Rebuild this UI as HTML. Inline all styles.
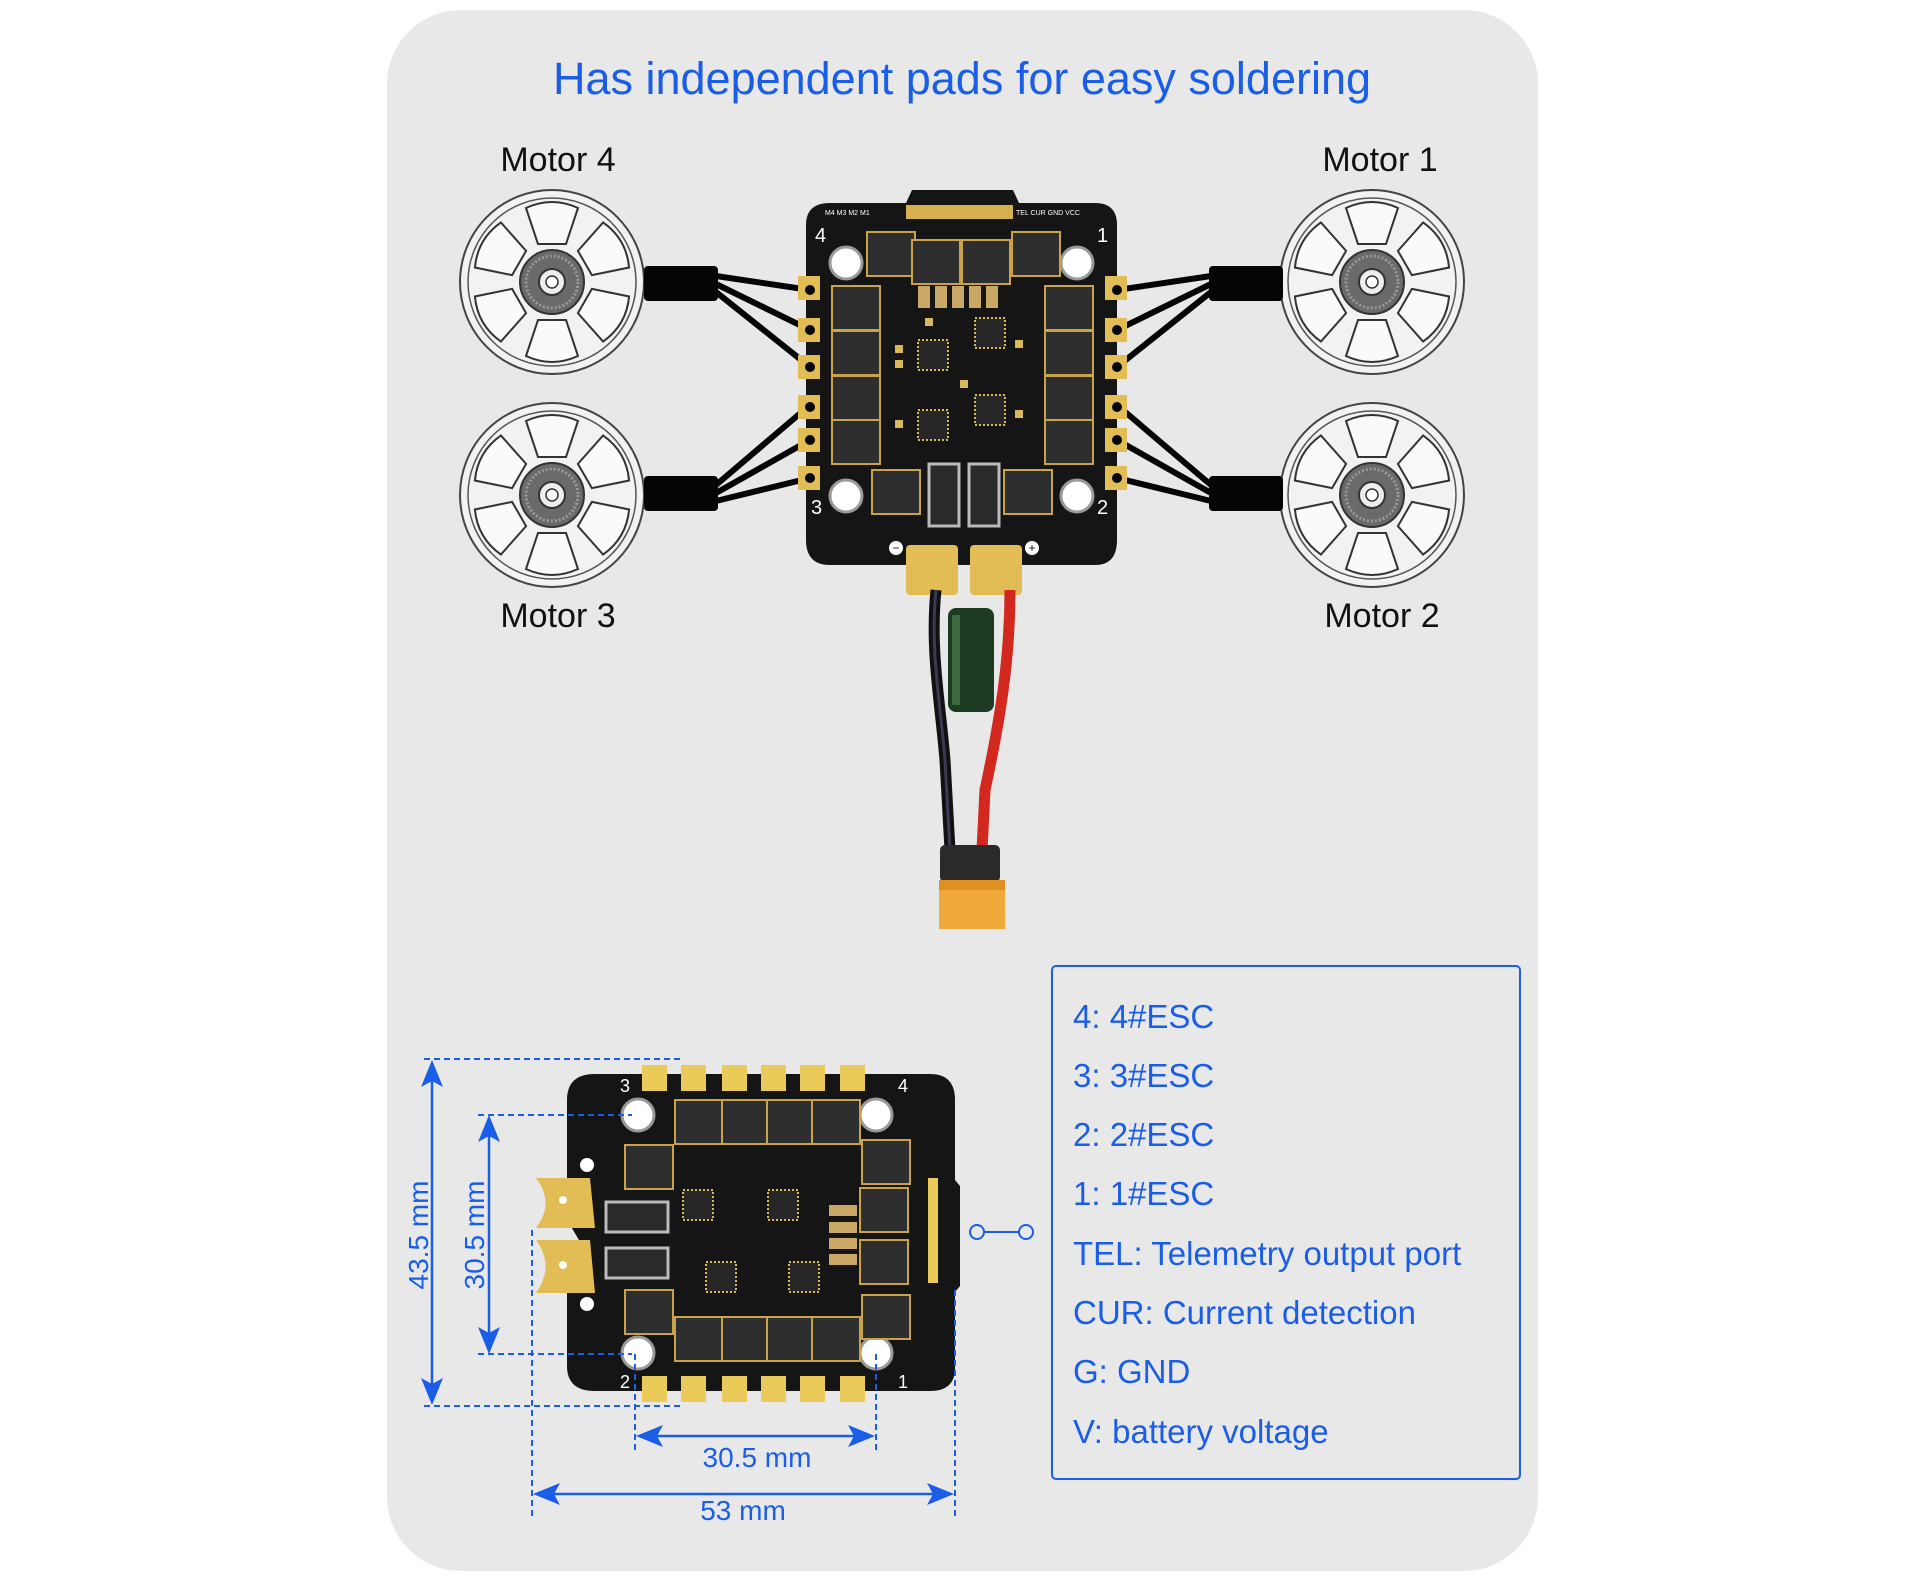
<!DOCTYPE html>
<html><head><meta charset="utf-8"><style>
html,body{margin:0;padding:0;background:#fff;}
svg{display:block;}
text{font-family:"Liberation Sans",sans-serif;}
</style></head><body>
<svg width="1920" height="1583" viewBox="0 0 1920 1583" xmlns="http://www.w3.org/2000/svg">
<defs>
<g id="motor">
 <circle r="92" fill="#f2f2f2" stroke="#444" stroke-width="2"/>
 <circle r="84" fill="none" stroke="#555" stroke-width="1.5"/>
 <g fill="#fafafa" stroke="#333" stroke-width="2">
  <path d="M-14,-38 L-26,-74 Q0,-86 26,-74 L14,-38 Z" transform="rotate(0)"/>
  <path d="M-14,-38 L-26,-74 Q0,-86 26,-74 L14,-38 Z" transform="rotate(60)"/>
  <path d="M-14,-38 L-26,-74 Q0,-86 26,-74 L14,-38 Z" transform="rotate(120)"/>
  <path d="M-14,-38 L-26,-74 Q0,-86 26,-74 L14,-38 Z" transform="rotate(180)"/>
  <path d="M-14,-38 L-26,-74 Q0,-86 26,-74 L14,-38 Z" transform="rotate(240)"/>
  <path d="M-14,-38 L-26,-74 Q0,-86 26,-74 L14,-38 Z" transform="rotate(300)"/>
 </g>
 <circle r="32" fill="#6a6a6a" stroke="#333" stroke-width="2"/>
 <circle r="26" fill="none" stroke="#999" stroke-width="3" stroke-dasharray="2 2"/>
 <circle r="13" fill="#eee" stroke="#333" stroke-width="2"/>
 <circle r="6" fill="#fff" stroke="#333" stroke-width="1.5"/>
</g>
<g id="chip"><rect width="48" height="44" fill="#2e2e2e" stroke="#c9a24a" stroke-width="2"/></g>
<g id="ic"><rect width="30" height="30" fill="#262626" stroke="#d9b85a" stroke-width="2" stroke-dasharray="2 2"/></g>
</defs>

<rect width="1920" height="1583" fill="#ffffff"/>
<rect x="387" y="10" width="1151" height="1561" rx="74" fill="#e8e8e8"/>

<text x="962" y="94" font-size="45" fill="#1a5ee8" text-anchor="middle">Has independent pads for easy soldering</text>
<text x="558" y="171" font-size="34" fill="#111" text-anchor="middle">Motor 4</text>
<text x="1380" y="171" font-size="34" fill="#111" text-anchor="middle">Motor 1</text>
<text x="558" y="627" font-size="34" fill="#111" text-anchor="middle">Motor 3</text>
<text x="1382" y="627" font-size="34" fill="#111" text-anchor="middle">Motor 2</text>

<use href="#motor" x="552" y="282"/>
<use href="#motor" x="552" y="495"/>
<use href="#motor" x="1372" y="282"/>
<use href="#motor" x="1372" y="495"/>

<!-- motor wires -->
<g fill="#050505">
<rect x="644" y="266" width="74" height="35" rx="4"/>
<rect x="644" y="476" width="74" height="35" rx="4"/>
<rect x="1209" y="266" width="74" height="35" rx="4"/>
<rect x="1209" y="476" width="74" height="35" rx="4"/>
</g>
<g stroke="#050505" stroke-width="6" fill="none">
<path d="M716,276 L810,290 M716,284 L810,330 M716,292 L810,367"/>
<path d="M716,485 L810,405 M716,493 L810,440 M716,501 L810,478"/>
<path d="M1211,276 L1117,290 M1211,284 L1117,330 M1211,292 L1117,367"/>
<path d="M1211,485 L1117,405 M1211,493 L1117,440 M1211,501 L1117,478"/>
</g>

<!-- top board -->
<path d="M830,203 L906,203 L912,190 L1013,190 L1019,203 L1095,203 Q1117,203 1117,225 L1117,540 Q1117,565 1095,565 L830,565 Q806,565 806,540 L806,225 Q806,203 830,203 Z" fill="#151515"/>
<rect x="906" y="205" width="107" height="14" fill="#d6b04f"/>
<g fill="#fff" font-size="7"><text x="825" y="215">M4  M3  M2  M1</text><text x="1016" y="215">TEL CUR GND VCC</text></g>
<text x="815" y="242" font-size="20" fill="#fff">4</text>
<text x="1097" y="242" font-size="20" fill="#fff">1</text>
<text x="811" y="514" font-size="20" fill="#fff">3</text>
<text x="1097" y="514" font-size="20" fill="#fff">2</text>
<g fill="#fff" stroke="#999" stroke-width="3">
<circle cx="846" cy="263" r="16"/><circle cx="1077" cy="263" r="16"/>
<circle cx="846" cy="496" r="16"/><circle cx="1077" cy="496" r="16"/>
</g>
<g fill="#e2bd55">
<rect x="798" y="276" width="22" height="24"/><rect x="798" y="318" width="22" height="24"/><rect x="798" y="355" width="22" height="24"/>
<rect x="798" y="395" width="22" height="24"/><rect x="798" y="428" width="22" height="24"/><rect x="798" y="466" width="22" height="24"/>
<rect x="1105" y="276" width="22" height="24"/><rect x="1105" y="318" width="22" height="24"/><rect x="1105" y="355" width="22" height="24"/>
<rect x="1105" y="395" width="22" height="24"/><rect x="1105" y="428" width="22" height="24"/><rect x="1105" y="466" width="22" height="24"/>
</g>
<g fill="#050505"><circle cx="810" cy="290" r="5"/><circle cx="810" cy="330" r="5"/><circle cx="810" cy="367" r="5"/><circle cx="810" cy="407" r="5"/><circle cx="810" cy="440" r="5"/><circle cx="810" cy="478" r="5"/>
<circle cx="1117" cy="290" r="5"/><circle cx="1117" cy="330" r="5"/><circle cx="1117" cy="367" r="5"/><circle cx="1117" cy="407" r="5"/><circle cx="1117" cy="440" r="5"/><circle cx="1117" cy="478" r="5"/></g>
<use href="#chip" x="832" y="286"/><use href="#chip" x="832" y="331"/><use href="#chip" x="832" y="376"/><use href="#chip" x="832" y="420"/>
<use href="#chip" x="1045" y="286"/><use href="#chip" x="1045" y="331"/><use href="#chip" x="1045" y="376"/><use href="#chip" x="1045" y="420"/>
<use href="#chip" x="867" y="232"/><use href="#chip" x="912" y="240"/><use href="#chip" x="962" y="240"/><use href="#chip" x="1012" y="232"/>
<use href="#chip" x="872" y="470"/><use href="#chip" x="1004" y="470"/>
<g fill="#c9a866"><rect x="918" y="286" width="12" height="22"/><rect x="935" y="286" width="12" height="22"/><rect x="952" y="286" width="12" height="22"/><rect x="969" y="286" width="12" height="22"/><rect x="986" y="286" width="12" height="22"/></g>
<rect x="929" y="464" width="30" height="62" fill="#2a2a2a" stroke="#bbb" stroke-width="3"/>
<rect x="969" y="464" width="30" height="62" fill="#2a2a2a" stroke="#bbb" stroke-width="3"/>
<use href="#ic" x="918" y="340"/><use href="#ic" x="975" y="318"/><use href="#ic" x="918" y="410"/><use href="#ic" x="975" y="395"/>
<g fill="#d9b85a"><rect x="895" y="345" width="8" height="8"/><rect x="895" y="360" width="8" height="8"/><rect x="895" y="420" width="8" height="8"/><rect x="1015" y="340" width="8" height="8"/><rect x="1015" y="410" width="8" height="8"/><rect x="960" y="380" width="8" height="8"/><rect x="925" y="318" width="8" height="8"/></g>
<g fill="#e2bd55">
<rect x="906" y="545" width="52" height="50" rx="4"/><rect x="970" y="545" width="52" height="50" rx="4"/>
</g>
<circle cx="896" cy="548" r="7" fill="#fff"/><circle cx="1032" cy="548" r="7" fill="#fff"/>
<text x="896" y="552" font-size="12" text-anchor="middle" fill="#111">−</text>
<text x="1032" y="552" font-size="12" text-anchor="middle" fill="#111">+</text>

<!-- battery wires -->
<path d="M936,590 C930,650 940,700 945,760 L950,850" stroke="#111" stroke-width="11" fill="none"/>
<path d="M936,590 C930,650 940,700 945,760 L950,850" stroke="#3a3a55" stroke-width="3" fill="none"/>
<path d="M1010,590 C1010,660 1000,720 985,790 L982,850" stroke="#d2281e" stroke-width="11" fill="none"/>
<rect x="948" y="608" width="46" height="104" rx="8" fill="#1d3a22"/>
<rect x="952" y="615" width="8" height="90" fill="#3b6b3e"/>
<rect x="940" y="845" width="60" height="37" rx="5" fill="#2a2a2a"/>
<rect x="939" y="880" width="66" height="49" fill="#f0a83a"/>
<rect x="939" y="880" width="66" height="10" fill="#e09020"/>

<!-- legend -->
<rect x="1052" y="966" width="468" height="513" rx="4" fill="none" stroke="#1a5ee8" stroke-width="2"/>
<g font-size="33" fill="#1a5ee8">
<text x="1073" y="1028">4:  4#ESC</text>
<text x="1073" y="1087">3:  3#ESC</text>
<text x="1073" y="1146">2:  2#ESC</text>
<text x="1073" y="1205">1:  1#ESC</text>
<text x="1073" y="1265">TEL:  Telemetry output port</text>
<text x="1073" y="1324">CUR:  Current detection</text>
<text x="1073" y="1383">G:  GND</text>
<text x="1073" y="1443">V:  battery voltage</text>
</g>
<g stroke="#1a5ee8" stroke-width="2" fill="none"><circle cx="977" cy="1232" r="7"/><circle cx="1026" cy="1232" r="7"/><line x1="984" y1="1232" x2="1019" y2="1232"/></g>

<!-- bottom board -->
<path d="M595,1074 L930,1074 Q955,1074 955,1100 L955,1180 L960,1186 L960,1286 L955,1292 L955,1368 Q955,1391 930,1391 L595,1391 Q567,1391 567,1366 L567,1290 L585,1250 L567,1220 L567,1170 L567,1100 Q567,1074 595,1074 Z" fill="#151515"/>
<g fill="#eacb5a">
<rect x="642" y="1065" width="25" height="26"/><rect x="681" y="1065" width="25" height="26"/><rect x="722" y="1065" width="25" height="26"/><rect x="761" y="1065" width="25" height="26"/><rect x="800" y="1065" width="25" height="26"/><rect x="840" y="1065" width="25" height="26"/>
<rect x="642" y="1376" width="25" height="26"/><rect x="681" y="1376" width="25" height="26"/><rect x="722" y="1376" width="25" height="26"/><rect x="761" y="1376" width="25" height="26"/><rect x="800" y="1376" width="25" height="26"/><rect x="840" y="1376" width="25" height="26"/>
<rect x="928" y="1178" width="10" height="105"/>
</g>
<g fill="#fff" stroke="#999" stroke-width="3">
<circle cx="638" cy="1115" r="16"/><circle cx="876" cy="1115" r="16"/><circle cx="638" cy="1353" r="16"/><circle cx="876" cy="1353" r="16"/>
</g>
<text x="620" y="1092" font-size="18" fill="#fff">3</text><text x="898" y="1092" font-size="18" fill="#fff">4</text>
<text x="620" y="1388" font-size="18" fill="#fff">2</text><text x="898" y="1388" font-size="18" fill="#fff">1</text>
<use href="#chip" x="675" y="1100"/><use href="#chip" x="722" y="1100"/><use href="#chip" x="767" y="1100"/><use href="#chip" x="812" y="1100"/>
<use href="#chip" x="675" y="1317"/><use href="#chip" x="722" y="1317"/><use href="#chip" x="767" y="1317"/><use href="#chip" x="812" y="1317"/>
<use href="#chip" x="862" y="1140"/><use href="#chip" x="860" y="1188"/><use href="#chip" x="860" y="1240"/><use href="#chip" x="862" y="1295"/>
<use href="#chip" x="625" y="1145"/><use href="#chip" x="625" y="1290"/>
<rect x="606" y="1202" width="62" height="30" fill="#2a2a2a" stroke="#bbb" stroke-width="3"/>
<rect x="606" y="1248" width="62" height="30" fill="#2a2a2a" stroke="#bbb" stroke-width="3"/>
<g fill="#c9a866"><rect x="829" y="1205" width="28" height="11"/><rect x="829" y="1222" width="28" height="11"/><rect x="829" y="1238" width="28" height="11"/><rect x="829" y="1254" width="28" height="11"/></g>
<use href="#ic" x="683" y="1190"/><use href="#ic" x="768" y="1190"/><use href="#ic" x="706" y="1262"/><use href="#ic" x="789" y="1262"/>
<g fill="#e2bd55"><path d="M536,1178 L590,1178 L595,1228 L536,1228 Q555,1203 536,1178 Z"/><path d="M536,1240 L590,1240 L595,1293 L536,1293 Q555,1266 536,1240 Z"/></g>
<circle cx="563" cy="1200" r="4" fill="#fff"/><circle cx="563" cy="1265" r="4" fill="#fff"/>
<circle cx="587" cy="1165" r="7" fill="#fff"/><circle cx="587" cy="1304" r="7" fill="#fff"/>

<!-- dimensions -->
<g stroke="#1a5ee8" stroke-width="2" fill="none" stroke-dasharray="6 4">
<line x1="424" y1="1059" x2="681" y2="1059"/>
<line x1="424" y1="1406" x2="681" y2="1406"/>
<line x1="478" y1="1115" x2="632" y2="1115"/>
<line x1="478" y1="1354" x2="632" y2="1354"/>
<line x1="532" y1="1230" x2="532" y2="1520"/>
<line x1="955" y1="1290" x2="955" y2="1520"/>
<line x1="635" y1="1354" x2="635" y2="1450"/>
<line x1="876" y1="1354" x2="876" y2="1450"/>
</g>
<g stroke="#1a5ee8" stroke-width="2.5" fill="none">
<line x1="432" y1="1070" x2="432" y2="1396"/>
<line x1="489" y1="1125" x2="489" y2="1344"/>
<line x1="645" y1="1436" x2="866" y2="1436"/>
<line x1="542" y1="1494" x2="945" y2="1494"/>
</g>
<g fill="#1a5ee8">
<path d="M432,1060 L421,1087 L432,1081 L443,1087 Z"/>
<path d="M432,1405 L421,1378 L432,1384 L443,1378 Z"/>
<path d="M489,1115 L478,1142 L489,1136 L500,1142 Z"/>
<path d="M489,1354 L478,1327 L489,1333 L500,1327 Z"/>
<path d="M636,1436 L663,1425 L657,1436 L663,1447 Z"/>
<path d="M875,1436 L848,1425 L854,1436 L848,1447 Z"/>
<path d="M533,1494 L560,1483 L554,1494 L560,1505 Z"/>
<path d="M954,1494 L927,1483 L933,1494 L927,1505 Z"/>
</g>
<g font-size="28" fill="#1a5ee8" text-anchor="middle">
<text x="757" y="1467">30.5 mm</text>
<text x="743" y="1520">53 mm</text>
<text transform="translate(428,1235) rotate(-90)">43.5 mm</text>
<text transform="translate(484,1235) rotate(-90)">30.5 mm</text>
</g>
</svg>
</body></html>
